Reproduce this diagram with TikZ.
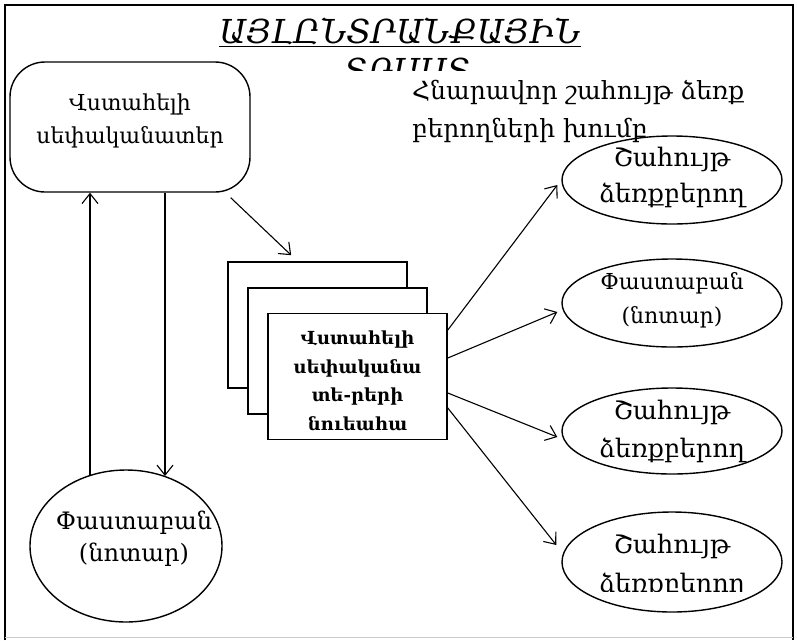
\documentclass[tikz,border=0pt]{standalone}
\usepackage{fontspec}
\setmainfont{DejaVu Serif}
\usetikzlibrary{arrows.meta,shapes.geometric}
\begin{document}
\begin{tikzpicture}[x=1pt,y=-1pt,
  arr/.style={-{Straight Barb[length=10pt,width=16pt]}, line width=1.1pt},
  sbox/.style={draw, line width=1.6pt, fill=white, minimum width=179pt, minimum height=126pt},
  ell/.style={draw, ellipse, line width=1.4pt, inner sep=0pt},
  txt/.style={align=center, inner sep=0pt, font=\fontsize{22}{33}\selectfont},
  etxt/.style={align=center, inner sep=0pt, font=\fontsize{25.5}{36}\selectfont},
  stxt/.style={align=center, inner sep=0pt, font=\fontsize{22}{34}\selectfont}
]
\useasboundingbox (0,0) rectangle (797,640);
\draw[line width=1.5pt] (5,640) -- (5,5) -- (793,5) -- (793,640);
\draw[gray!40] (5,637) -- (793,637);

% title (second line clipped)
\node[anchor=base, inner sep=0pt, font=\itshape\fontsize{33}{36}\selectfont] (title1) at (400,43) {\underline{ԱՅԼԸՆՏՐԱՆՔԱՅԻՆ}};
\begin{scope}
\clip (0,50) rectangle (797,70);
\node[anchor=base, inner sep=0pt, font=\itshape\fontsize{33}{36}\selectfont] (title2) at (407,82) {ՏՐԱՍՏ};
\end{scope}

% owner box
\node[draw, rounded corners=35pt, line width=1.4pt, minimum width=240pt, minimum height=130pt] (owner) at (130,127) {};
\node[txt] (ownertxt) at (130,121) {Վստահելի\\սեփականատեր};

% bottom-left notary
\node[ell, minimum width=192pt, minimum height=152pt] (notary1) at (126,546) {};
\node[align=center, inner sep=0pt, font=\fontsize{24}{32}\selectfont] (notary1txt) at (134,539) {Փաստաբան\\(նոտար)};

\coordinate (a1) at (90,476);
\coordinate (a2) at (165,476);
\draw[arr] (a1) -- (a1 |- owner.south);
\draw[arr] (a2 |- owner.south) -- (a2);

% stacked boxes
\node[sbox] (boxA) at (317.5,325) {};
\node[sbox] (boxB) at (337.5,351) {};
\node[sbox] (boxC) at (357.5,376.5) {};
\node[align=center, inner sep=0pt, font=\bfseries\fontsize{18}{28.5}\selectfont] (boxCtxt) at (357.5,381) {Վստահելի\\սեփականա\\տե-րերի\\նուեահա};

\draw[arr] ([shift={(-20,5)}]owner.south east) -- ([shift={(64,-6)}]boxA.north west);

% group label
\node[anchor=west, align=left, inner sep=0pt, font=\fontsize{25}{38}\selectfont] (grp) at (412,111) {Հնարավոր շահույթ ձեռք\\բերողների խումբ};

% right ellipses
\node[ell, minimum width=220pt, minimum height=88pt] (e1) at (672,180) {};
\node[etxt] (e1txt) at (672,177) {Շահույթ\\ձեռքբերող};
\node[ell, minimum width=220pt, minimum height=88pt] (e2) at (672,303) {};
\node[stxt] (e2txt) at (672,300) {Փաստաբան\\(նոտար)};
\node[ell, minimum width=220pt, minimum height=86pt] (e3) at (672,431) {};
\node[etxt, font=\fontsize{25.5}{38}\selectfont] (e3txt) at (672,431) {Շահույթ\\ձեռքբերող};
\node[ell, minimum width=220pt, minimum height=100pt] (e4) at (672,562) {};
\begin{scope}
\clip (550,500) rectangle (797,591);
\node[etxt, font=\fontsize{25.5}{39}\selectfont] (e4txt) at (672,566) {Շահույթ\\ձեռքբերող};
\end{scope}

\draw[arr] ([shift={(0,-46.5)}]boxC.east) -- ([shift={(-4,5)}]e1.west);
\draw[arr] ([shift={(0,-18.5)}]boxC.east) -- ([shift={(-4,9)}]e2.west);
\draw[arr] ([shift={(0,16.5)}]boxC.east) -- ([shift={(-4,6)}]e3.west);
\draw[arr] ([shift={(0,31.5)}]boxC.east) -- ([shift={(-5,-17)}]e4.west);
\end{tikzpicture}
\end{document}
